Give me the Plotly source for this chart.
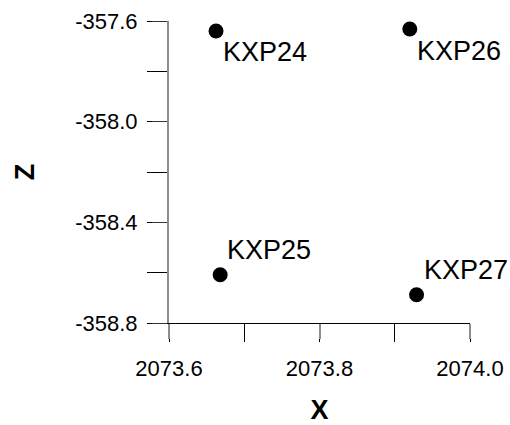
import plotly.graph_objects as go

# Survey point coordinates
names = ["KXP24", "KXP25", "KXP26", "KXP27"]
x_vals = [2073.6625, 2073.668, 2073.920, 2073.929]
z_vals = [-357.640, -358.608, -357.632, -358.688]

# Label offsets in pixels (right of the marker; negative = below it)
label_dy = [-21, 25, -22, 25]

x_ticks = [2073.6, 2073.8, 2074.0]
z_ticks = [-357.6, -358.0, -358.4, -358.8]

FONT = "Liberation Sans, Arial, sans-serif"

fig = go.Figure(
    go.Scatter(
        x=x_vals,
        y=z_vals,
        mode="markers",
        marker=dict(size=15, color="black"),
        cliponaxis=False,
        hoverinfo="skip",
    )
)

for n, xv, zv, dy in zip(names, x_vals, z_vals, label_dy):
    fig.add_annotation(
        x=xv, y=zv, text=n, showarrow=False,
        xanchor="left", yanchor="middle",
        xshift=5, yshift=dy,
        font=dict(family=FONT, size=27, color="black"),
    )

fig.update_layout(
    width=510, height=425,
    margin=dict(l=169, r=40, t=21, b=102),
    paper_bgcolor="white", plot_bgcolor="white",
    showlegend=False,
    font=dict(family=FONT, color="black"),
)

fig.update_xaxes(
    automargin=False,
    range=[2073.6, 2074.0],
    tickmode="array", tickvals=x_ticks,
    ticktext=[f"{v:.1f}" for v in x_ticks],
    ticks="outside", ticklen=15, tickwidth=2, tickcolor="#8c8c8c",
    minor=dict(dtick=0.1, tick0=2073.6, ticks="outside", ticklen=18,
               tickwidth=1, tickcolor="black", showgrid=False),
    ticklabelstandoff=11,
    tickfont=dict(family=FONT, size=22, color="black"),
    showline=True, linecolor="black", linewidth=1,
    showgrid=False, zeroline=False,
    title=dict(text="<b>X</b>", font=dict(family=FONT, size=27, color="black"),
               standoff=20),
)

fig.update_yaxes(
    automargin=False,
    range=[-358.8, -357.6],
    tickmode="array", tickvals=z_ticks,
    ticktext=[f"{v:.1f}" for v in z_ticks],
    ticks="outside", ticklen=15, tickwidth=1, tickcolor="#333333",
    minor=dict(dtick=0.2, tick0=-358.8, ticks="outside", ticklen=20,
               tickwidth=1, tickcolor="black", showgrid=False),
    ticklabelstandoff=10,
    tickfont=dict(family=FONT, size=22, color="black"),
    showline=True, linecolor="#8c8c8c", linewidth=2,
    showgrid=False, zeroline=False,
    title=dict(text="<b>Z</b>", font=dict(family=FONT, size=27, color="black"),
               standoff=33),
)

fig.write_html("out.html")
